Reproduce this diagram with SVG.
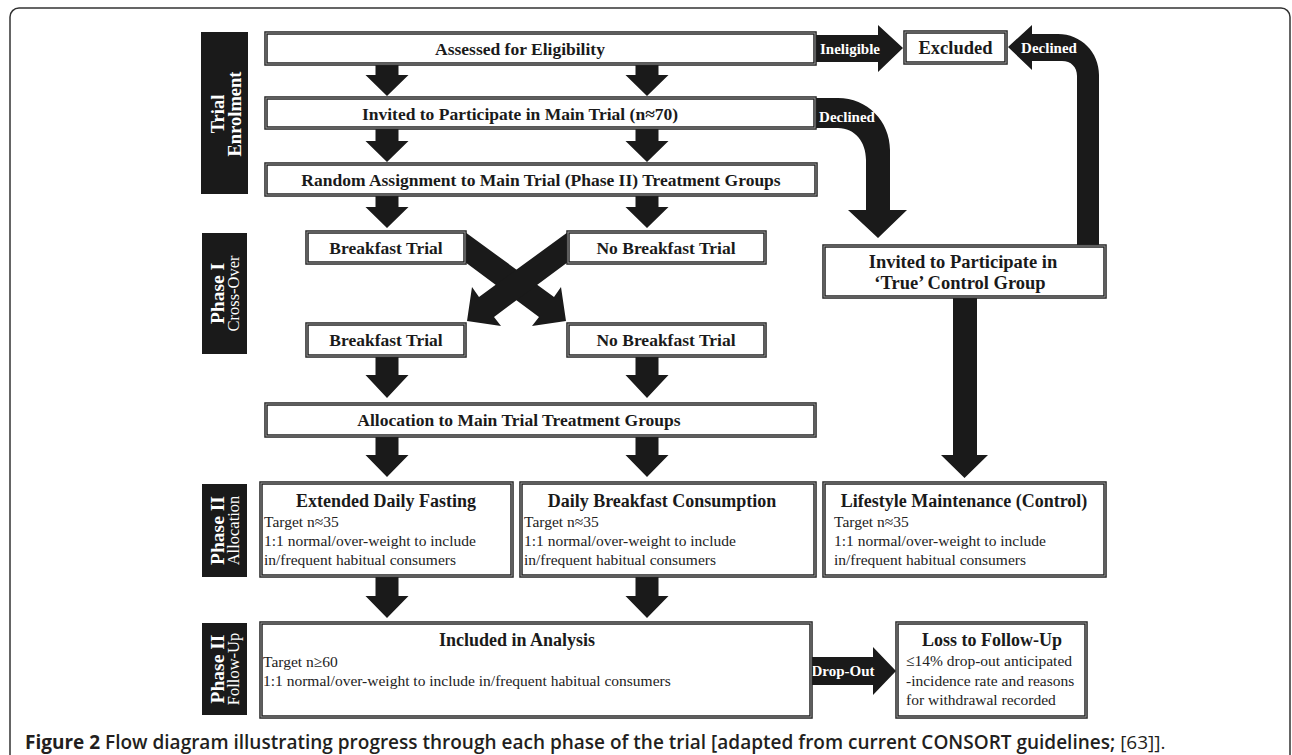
<svg xmlns="http://www.w3.org/2000/svg" width="1292" height="755" viewBox="0 0 1292 755">
<style>
.frame{fill:none;stroke:#333;stroke-width:1.5}
.bx{fill:#fff;stroke:#222;stroke-width:3.5}
.bi{fill:none;stroke:#9a9a9a;stroke-width:1}
.ar{fill:#1a1a1a}
.lab{fill:#1a1a1a}
.t{font-family:"Liberation Serif","Times New Roman",serif;font-weight:bold;font-size:17.5px;fill:#1a1a1a;text-anchor:middle}
.tt{font-family:"Liberation Serif","Times New Roman",serif;font-weight:bold;font-size:18px;fill:#1a1a1a;text-anchor:middle}
.b{font-family:"Liberation Serif","Times New Roman",serif;font-size:15.5px;fill:#222}
.w{font-family:"Liberation Serif","Times New Roman",serif;font-weight:bold;font-size:15px;fill:#fff;text-anchor:middle}
.p1{font-family:"Liberation Serif","Times New Roman",serif;font-weight:bold;font-size:19.5px;fill:#fff;text-anchor:middle}
.p2{font-family:"Liberation Serif","Times New Roman",serif;font-size:16.5px;fill:#fff;text-anchor:middle}
.cap{font-family:"Open Sans","Noto Sans",sans-serif;font-size:19px;fill:#231f20}
</style>
<rect class="frame" x="10" y="8" width="1280" height="800" rx="9"/>

<g id="connectors">
  <polygon class="ar" points="375.5,64 398.5,64 398.5,75 408.5,75 387,96 365.5,75 375.5,75"/>
  <polygon class="ar" points="635.5,64 658.5,64 658.5,75 668.5,75 647,96 625.5,75 635.5,75"/>
  <polygon class="ar" points="375.5,128 398.5,128 398.5,141 408.5,141 387,162 365.5,141 375.5,141"/>
  <polygon class="ar" points="635.5,128 658.5,128 658.5,141 668.5,141 647,162 625.5,141 635.5,141"/>
  <polygon class="ar" points="375.5,194 398.5,194 398.5,207 408.5,207 387,228 365.5,207 375.5,207"/>
  <polygon class="ar" points="635.5,194 658.5,194 658.5,207 668.5,207 647,228 625.5,207 635.5,207"/>
  <polygon class="ar" points="375.5,356 398.5,356 398.5,375 408.5,375 387,398 365.5,375 375.5,375"/>
  <polygon class="ar" points="635.5,356 658.5,356 658.5,375 668.5,375 647,398 625.5,375 635.5,375"/>
  <polygon class="ar" points="375.5,436 398.5,436 398.5,455 408.5,455 387,477 365.5,455 375.5,455"/>
  <polygon class="ar" points="635.5,436 658.5,436 658.5,455 668.5,455 647,477 625.5,455 635.5,455"/>
  <polygon class="ar" points="375.5,576 398.5,576 398.5,596 408.5,596 387,618 365.5,596 375.5,596"/>
  <polygon class="ar" points="635.5,576 658.5,576 658.5,596 668.5,596 647,618 625.5,596 635.5,596"/>
  <!-- cross-over -->
  <polygon class="ar" points="465,232 554,297 561,287 566,321 532,326 539,317 465,262"/>
  <polygon class="ar" points="568,232 479,297 472,287 467,321 501,326 494,317 568,262"/>
  <!-- ineligible -->
  <polygon class="ar" points="813,35 878,35 878,25 903,48 878,72 878,62 813,62"/>
  <text class="w" x="850" y="54">Ineligible</text>
  <!-- declined (main trial) -->
  <path class="ar" d="M812,98 L838,98 C867,98 890,121 890,150 L890,210 L907,210 L878,238 L848,210 L866,210 L866,160 C866,142 855,128 838,128 L812,128 Z"/>
  <text class="w" x="847" y="122">Declined</text>
  <!-- declined (control) -->
  <path class="ar" d="M1008,47 L1032,25 L1032,34 L1058,34 C1081,34 1099,52 1099,75 L1099,248 L1077,248 L1077,76 C1077,67 1071,61 1062,61 L1032,61 L1032,70 Z"/>
  <text class="w" x="1049" y="53">Declined</text>
  <!-- control down -->
  <polygon class="ar" points="953,296 977,296 977,455 988,455 964.5,478 941,455 953,455"/>
  <!-- drop-out -->
  <polygon class="ar" points="809,657 873,657 873,647 896,671 873,695 873,685 809,685"/>
  <text class="w" x="843" y="676">Drop-Out</text>
</g>

<g id="label-enrolment">
  <rect class="lab" x="201" y="32" width="47" height="162"/>
  <text class="p1" transform="translate(224,114) rotate(-90)" style="font-size:18.5px">Trial</text>
  <text class="p1" transform="translate(241,114) rotate(-90)" style="font-size:18.5px">Enrolment</text>
</g>
<g id="label-crossover">
  <rect class="lab" x="202" y="233" width="45" height="121"/>
  <text class="p1" transform="translate(224,293.5) rotate(-90)">Phase I</text>
  <text class="p2" transform="translate(239,293.5) rotate(-90)">Cross-Over</text>
</g>
<g id="label-allocation">
  <rect class="lab" x="202" y="484" width="45" height="93"/>
  <text class="p1" transform="translate(224,530.5) rotate(-90)">Phase II</text>
  <text class="p2" transform="translate(239,530.5) rotate(-90)">Allocation</text>
</g>
<g id="label-followup">
  <rect class="lab" x="202" y="623" width="45" height="92"/>
  <text class="p1" transform="translate(224,669) rotate(-90)">Phase II</text>
  <text class="p2" transform="translate(239,669) rotate(-90)">Follow-Up</text>
</g>

<g id="assessed">
  <rect class="bx" x="266" y="33" width="549" height="31"/><rect class="bi" x="266" y="33" width="549" height="31"/>
  <text class="t" x="520" y="55">Assessed for Eligibility</text>
</g>
<g id="excluded">
  <rect class="bx" x="905" y="32" width="101" height="31"/><rect class="bi" x="905" y="32" width="101" height="31"/>
  <text class="tt" x="955.5" y="54" style="font-size:18.5px">Excluded</text>
</g>
<g id="invited-main">
  <rect class="bx" x="266" y="98" width="549" height="30"/><rect class="bi" x="266" y="98" width="549" height="30"/>
  <text class="t" x="520" y="120">Invited to Participate in Main Trial (n≈70)</text>
</g>
<g id="random">
  <rect class="bx" x="266" y="164" width="550" height="31"/><rect class="bi" x="266" y="164" width="550" height="31"/>
  <text class="t" x="541" y="186">Random Assignment to Main Trial (Phase II) Treatment Groups</text>
</g>
<g id="breakfast-1">
  <rect class="bx" x="307" y="232" width="158" height="31"/><rect class="bi" x="307" y="232" width="158" height="31"/>
  <text class="t" x="386" y="254">Breakfast Trial</text>
</g>
<g id="nobreakfast-1">
  <rect class="bx" x="568" y="232" width="197" height="31"/><rect class="bi" x="568" y="232" width="197" height="31"/>
  <text class="t" x="666" y="254">No Breakfast Trial</text>
</g>
<g id="breakfast-2">
  <rect class="bx" x="307" y="324" width="158" height="32"/><rect class="bi" x="307" y="324" width="158" height="32"/>
  <text class="t" x="386" y="346">Breakfast Trial</text>
</g>
<g id="nobreakfast-2">
  <rect class="bx" x="568" y="324" width="197" height="32"/><rect class="bi" x="568" y="324" width="197" height="32"/>
  <text class="t" x="666" y="346">No Breakfast Trial</text>
</g>
<g id="true-control">
  <rect class="bx" x="824" y="246" width="281" height="51"/><rect class="bi" x="824" y="246" width="281" height="51"/>
  <text class="tt" x="963" y="268" style="font-size:18.5px">Invited to Participate in</text>
  <text class="tt" x="960" y="289" style="font-size:18.5px">‘True’ Control Group</text>
</g>
<g id="allocation">
  <rect class="bx" x="266" y="404" width="549" height="32"/><rect class="bi" x="266" y="404" width="549" height="32"/>
  <text class="t" x="519" y="426">Allocation to Main Trial Treatment Groups</text>
</g>
<g id="fasting">
  <rect class="bx" x="261" y="483" width="251" height="93"/><rect class="bi" x="261" y="483" width="251" height="93"/>
  <text class="tt" x="386" y="507">Extended Daily Fasting</text>
  <text class="b" x="264" y="527">Target n≈35</text>
  <text class="b" x="264" y="546">1:1 normal/over-weight to include</text>
  <text class="b" x="264" y="565">in/frequent habitual consumers</text>
</g>
<g id="breakfast-consumption">
  <rect class="bx" x="521" y="483" width="294" height="93"/><rect class="bi" x="521" y="483" width="294" height="93"/>
  <text class="tt" x="662" y="507">Daily Breakfast Consumption</text>
  <text class="b" x="524" y="527">Target n≈35</text>
  <text class="b" x="524" y="546">1:1 normal/over-weight to include</text>
  <text class="b" x="524" y="565">in/frequent habitual consumers</text>
</g>
<g id="lifestyle">
  <rect class="bx" x="824" y="483" width="281" height="93"/><rect class="bi" x="824" y="483" width="281" height="93"/>
  <text class="tt" x="964" y="507">Lifestyle Maintenance (Control)</text>
  <text class="b" x="834" y="527">Target n≈35</text>
  <text class="b" x="834" y="546">1:1 normal/over-weight to include</text>
  <text class="b" x="834" y="565">in/frequent habitual consumers</text>
</g>
<g id="included">
  <rect class="bx" x="261" y="623" width="550" height="94"/><rect class="bi" x="261" y="623" width="550" height="94"/>
  <text class="tt" x="517" y="646">Included in Analysis</text>
  <text class="b" x="263" y="667">Target n≥60</text>
  <text class="b" x="263" y="686">1:1 normal/over-weight to include in/frequent habitual consumers</text>
</g>
<g id="loss">
  <rect class="bx" x="897" y="623" width="189" height="94"/><rect class="bi" x="897" y="623" width="189" height="94"/>
  <text class="tt" x="992" y="646">Loss to Follow-Up</text>
  <text class="b" x="906" y="666">≤14% drop-out anticipated</text>
  <text class="b" x="906" y="686">-incidence rate and reasons</text>
  <text class="b" x="906" y="705">for withdrawal recorded</text>
</g>

<text class="cap" x="25" y="749"><tspan font-weight="700">Figure 2</tspan><tspan font-weight="600"> Flow diagram illustrating progress through each phase of the trial [adapted from current CONSORT guidelines; </tspan><tspan font-weight="400">[63]].</tspan></text>
</svg>
